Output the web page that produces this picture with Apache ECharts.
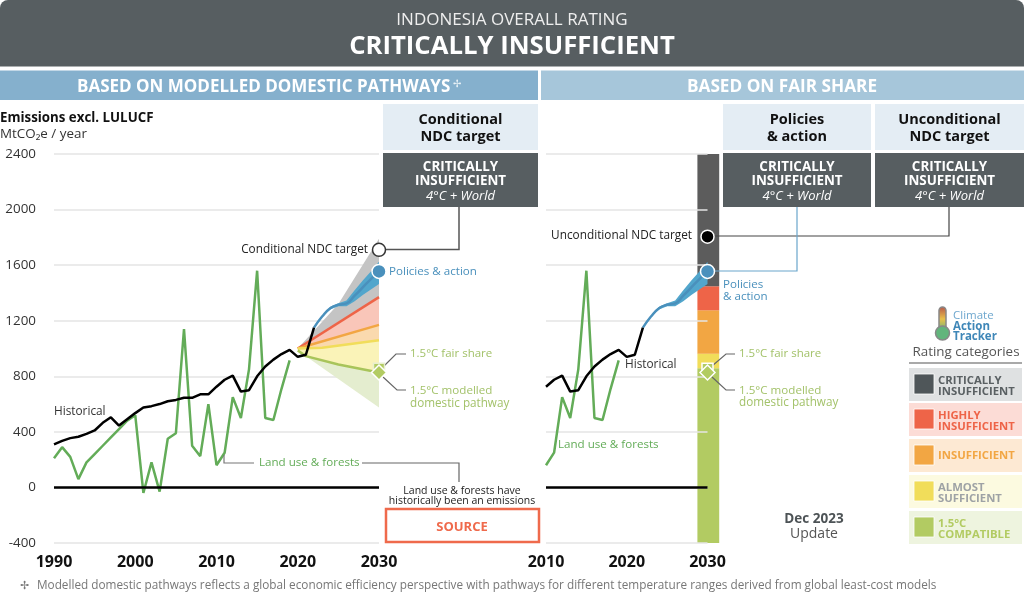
<!DOCTYPE html>
<html>
<head>
<meta charset="utf-8">
<title>Indonesia overall rating</title>
<style>
  html, body { margin: 0; padding: 0; background: #fff; }
  #chart { width: 1024px; height: 600px; }
</style>
<script src="https://cdn.jsdelivr.net/npm/echarts@6/dist/echarts.min.js"></script>
</head>
<body>
<div id="chart"></div>
<script>
var FONT = '"Open Sans", "Noto Sans", sans-serif';

var yTicks = [-400, 0, 400, 800, 1200, 1600, 2000, 2400];

var histYears = [1990, 1991, 1992, 1993, 1994, 1995, 1996, 1997, 1998, 1999, 2000, 2001, 2002, 2003, 2004, 2005,
    2006, 2007, 2008, 2009, 2010, 2011, 2012, 2013, 2014, 2015, 2016, 2017, 2018, 2019, 2020, 2021, 2022];
var historical = [310, 335, 355, 365, 385, 410, 465, 505, 445, 490, 535, 575, 585, 600, 620, 630,
    645, 645, 670, 670, 725, 775, 805, 690, 700, 800, 870, 920, 960, 990, 940, 955, 1150];

var lulucfYears = [1990, 1991, 1992, 1993, 1994, 1995, 1996, 1997, 1998, 1999, 2000, 2001, 2002, 2003, 2004, 2005,
    2006, 2007, 2008, 2009, 2010, 2011, 2012, 2013, 2014, 2015, 2016, 2017, 2018, 2019];
var lulucf = [210, 290, 220, 60, 180, 240, 300, 360, 420, 480, 520, -40, 180, -30, 350, 390,
    1140, 300, 225, 600, 160, 250, 650, 500, 850, 1560, 500, 485, 710, 915];

var policyYears = [2022, 2023, 2024, 2025, 2026, 2027, 2028, 2029, 2030];
var policyMid = [1150, 1230, 1290, 1315, 1325, 1380, 1440, 1500, 1555];
var policyHigh = [1150, 1235, 1300, 1325, 1345, 1420, 1490, 1555, 1625];
var policyLow = [1150, 1225, 1280, 1305, 1305, 1340, 1385, 1425, 1465];

// rating boundaries in the left panel, corners
var critYears = [2020, 2025, 2030];
var critTop = [1000, 1320, 1790];
var highYears = [2020, 2030];
var highTop = [1000, 1370];
var insufYears = [2020, 2030];
var insufTop = [1000, 1170];
var almostYears = [2020, 2023, 2030];
var almostTop = [1000, 1005, 1060];
var compatYears = [2020, 2021, 2025, 2030];
var compatLine = [985, 945, 885, 827];
var compatLowYears = [2021, 2030];
var compatLow = [945, 575];

var barEdges = [2028.75, 2031.45];
var barBreaks = [-400, 858, 963, 1275, 1448, 2400];
var barColors = ['#b2cb62', '#f1dd5a', '#f2a643', '#ee6448', '#5c5c5c'];

var condNdc = 1710;
var uncondNdc = 1805;
var policy2030 = 1555;
var fairShare = 855;
var modelled = 827;

function pairs(xs, ys) {
    return xs.map(function (x, i) { return [x, ys[i]]; });
}

// filled polygon between two curves, goes through the axis scales
function band(gridIndex, upXs, upper, lowXs, lower, color, z) {
    return {
        type: 'custom',
        xAxisIndex: gridIndex,
        yAxisIndex: gridIndex,
        z: z || 3,
        silent: true,
        clip: false,
        data: [0],
        renderItem: function (params, api) {
            var pts = [];
            upXs.forEach(function (x, i) { pts.push(api.coord([x, upper[i]])); });
            for (var i = lowXs.length - 1; i >= 0; i--) pts.push(api.coord([lowXs[i], lower[i]]));
            return { type: 'polygon', shape: { points: pts }, style: { fill: color } };
        }
    };
}

function column(i) {
    var lo = barBreaks[i], hi = barBreaks[i + 1];
    return band(1, barEdges, [hi, hi], barEdges, [lo, lo], barColors[i], 1);
}

function line(gridIndex, xs, ys, color, width, z, smooth) {
    return {
        type: 'line',
        xAxisIndex: gridIndex,
        yAxisIndex: gridIndex,
        data: pairs(xs, ys),
        showSymbol: false,
        silent: true,
        smooth: !!smooth,
        z: z || 5,
        lineStyle: { color: color, width: width }
    };
}

function point(gridIndex, x, y, symbol, size, fill, border, z) {
    return {
        type: 'scatter',
        xAxisIndex: gridIndex,
        yAxisIndex: gridIndex,
        data: [[x, y]],
        symbol: symbol,
        symbolSize: size,
        silent: true,
        z: z || 10,
        itemStyle: { color: fill, borderColor: border, borderWidth: 1.5, opacity: 1 }
    };
}

function rightPart(xs, ys, from) {
    var outX = [], outY = [];
    xs.forEach(function (x, i) {
        if (x >= from) { outX.push(x); outY.push(ys[i]); }
    });
    return [outX, outY];
}

var hist2 = rightPart(histYears, historical, 2010);
var land2 = rightPart(lulucfYears, lulucf, 2010);

var series = [
    // left panel
    band(0, critYears, critTop, highYears, highTop, '#c4c4c4'),
    band(0, highYears, highTop, insufYears, insufTop, '#f9c6b9'),
    band(0, insufYears, insufTop, almostYears, almostTop, '#fad9ae'),
    band(0, almostYears, almostTop, compatYears, compatLine, '#faf3b8'),
    band(0, compatYears, compatLine, compatLowYears, compatLow, '#e4edcf'),
    band(0, policyYears, policyHigh, policyYears, policyLow, '#52a6cc', 4),
    line(0, highYears, highTop, '#ee6448', 2.5, 4),
    line(0, insufYears, insufTop, '#f2a643', 2.5, 4),
    line(0, almostYears, almostTop, '#f1dd5a', 2.5, 4),
    line(0, compatYears, compatLine, '#a8c45a', 2.5, 4),
    line(0, policyYears, policyMid, '#4a90bc', 2.5, 5, true),
    line(0, lulucfYears, lulucf, '#63ac58', 2.5, 5),
    line(0, histYears, historical, '#000', 2.5, 6),
    line(0, [1990, 2030], [0, 0], '#000', 2.5, 6),
    point(0, 2030, fairShare, 'rect', 11, '#b2cb62', '#e8efcf'),
    point(0, 2030, modelled, 'diamond', 15, '#b2cb62', '#fff', 11),
    point(0, 2030, condNdc, 'circle', 13, '#fff', '#333'),
    point(0, 2030, policy2030, 'circle', 14, '#4a90bc', '#fff'),
    // right panel
    column(0), column(1), column(2), column(3), column(4),
    band(1, policyYears, policyHigh, policyYears, policyLow, '#52a6cc', 14),
    line(1, policyYears, policyMid, '#4a90bc', 2.5, 15, true),
    line(1, land2[0], land2[1], '#63ac58', 2.5, 15),
    line(1, hist2[0], hist2[1], '#000', 2.5, 16),
    line(1, [2010, 2030], [0, 0], '#000', 2.5, 16),
    point(1, 2030, fairShare, 'rect', 11, '#b2cb62', '#fff', 17),
    point(1, 2030, modelled, 'diamond', 15, '#b2cb62', '#fff', 18),
    point(1, 2030, uncondNdc, 'circle', 13, '#000', '#fff', 17),
    point(1, 2030, policy2030, 'circle', 14, '#4a90bc', '#fff', 17)
];

function txt(x, y, text, size, color, opts) {
    opts = opts || {};
    return {
        type: 'text',
        x: x,
        y: y + 1,
        z: 50,
        silent: true,
        style: {
            text: text,
            fontFamily: FONT,
            fontSize: size,
            fill: color,
            fontWeight: opts.bold ? 700 : 400,
            fontStyle: opts.italic ? 'italic' : 'normal',
            align: opts.align || 'left',
            verticalAlign: 'middle',
            lineHeight: opts.lh || size * 1.2
        }
    };
}

function box(x, y, w, h, fill, opts) {
    opts = opts || {};
    return {
        type: 'rect',
        z: opts.z || 0,
        silent: true,
        shape: { x: x, y: y, width: w, height: h, r: opts.r || 0 },
        style: { fill: fill, stroke: opts.stroke, lineWidth: opts.lw || 0 }
    };
}

function leader(points, color, width) {
    return {
        type: 'polyline',
        z: 9,
        silent: true,
        shape: { points: points },
        style: { stroke: color, lineWidth: width || 1.5, fill: 'none' }
    };
}

function targetHead(x, w, a, b) {
    return [
        box(x, 104, w, 46, '#e4edf4'),
        txt(x + w / 2, 119, a, 14.5, '#111', { align: 'center', bold: true }),
        txt(x + w / 2, 136, b, 14.5, '#111', { align: 'center', bold: true }),
        box(x, 153, w, 54, '#575e61'),
        txt(x + w / 2, 166, 'CRITICALLY', 13.4, '#fff', { align: 'center', bold: true }),
        txt(x + w / 2, 180, 'INSUFFICIENT', 13.4, '#fff', { align: 'center', bold: true }),
        txt(x + w / 2, 195, '4°C + World', 13, '#fff', { align: 'center', italic: true })
    ];
}

var legendRows = [
    { y: 368, h: 33, bg: '#dfe1e2', sw: '#4f5659', color: '#5a6063', a: 'CRITICALLY', b: 'INSUFFICIENT' },
    { y: 403, h: 33, bg: '#fcdcd6', sw: '#ee6448', color: '#ee6448', a: 'HIGHLY', b: 'INSUFFICIENT' },
    { y: 439, h: 33, bg: '#fde9d3', sw: '#f2a643', color: '#f2a643', a: 'INSUFFICIENT' },
    { y: 475, h: 33, bg: '#fcfae0', sw: '#f1dd5a', color: '#9ea2a5', a: 'ALMOST', b: 'SUFFICIENT' },
    { y: 511, h: 33, bg: '#eef4df', sw: '#b2cb62', color: '#b2cb62', a: '1.5°C', b: 'COMPATIBLE' }
];

var graphics = [
    box(0, 0, 1024, 66.5, '#575e61', { r: [8, 8, 0, 0] }),
    txt(512, 19, 'INDONESIA OVERALL RATING', 17, '#eee', { align: 'center' }),
    txt(512, 46, 'CRITICALLY INSUFFICIENT', 25.7, '#fff', { align: 'center', bold: true }),
    box(0, 70.5, 538, 29.5, '#85b0cd'),
    box(541, 70.5, 483, 29.5, '#a6c6da'),
    txt(77, 86, 'BASED ON MODELLED DOMESTIC PATHWAYS', 17, '#fff', { bold: true }),
    txt(453, 83, '✢', 9.5, '#eaf2f7'),
    txt(782, 86, 'BASED ON FAIR SHARE', 17.2, '#fff', { align: 'center', bold: true }),
    txt(0, 117, 'Emissions excl. LULUCF', 13.3, '#111', { bold: true }),
    txt(0, 133, 'MtCO₂e / year', 13.4, '#333'),

    // left panel notes
    txt(368, 249, 'Conditional NDC target', 11.8, '#222', { align: 'right' }),
    leader([[385, 249.5], [459, 249.5], [459, 207]], '#555', 1.5),
    txt(389, 271, 'Policies & action', 11.6, '#4a90bc'),
    leader([[383, 367], [396, 354], [406, 354]], '#666', 1.2),
    txt(410, 353, '1.5°C fair share', 11.5, '#a3c26a'),
    leader([[383, 377], [397, 390], [406, 390]], '#666', 1.2),
    txt(410, 390, '1.5°C modelled', 11.6, '#a3c26a'),
    txt(410, 403, 'domestic pathway', 11.7, '#a3c26a'),
    txt(54, 411, 'Historical', 11.8, '#333'),
    leader([[224, 455], [224, 463], [254, 463]], '#777', 1.2),
    txt(259, 462, 'Land use & forests', 11.6, '#63ac58'),
    leader([[362, 463], [459, 463], [459, 482]], '#666', 1.2),
    txt(462, 490, 'Land use & forests have', 10.5, '#222', { align: 'center' }),
    txt(462, 500, 'historically been an emissions', 10.5, '#222', { align: 'center' }),
    box(386, 509, 153, 33, '#fff', { stroke: '#ef6a4c', lw: 2.5 }),
    txt(462, 526, 'SOURCE', 13, '#ef6a4c', { align: 'center', bold: true }),

    // right panel notes
    txt(692, 235, 'Unconditional NDC target', 11.8, '#222', { align: 'right' }),
    leader([[714, 236], [949, 236], [949, 207]], '#444', 1.2),
    leader([[714, 271], [797, 271], [797, 207]], '#6aa6cc', 1.2),
    txt(723, 284, 'Policies', 11.6, '#4a90bc'),
    txt(723, 296, '& action', 11.6, '#4a90bc'),
    txt(625, 364, 'Historical', 11.8, '#333'),
    leader([[712, 366], [726, 354], [735, 354]], '#666', 1.2),
    txt(739, 353, '1.5°C fair share', 11.5, '#a3c26a'),
    leader([[712, 377], [726, 390], [735, 390]], '#666', 1.2),
    txt(739, 390, '1.5°C modelled', 11.6, '#a3c26a'),
    txt(739, 402, 'domestic pathway', 11.7, '#a3c26a'),
    txt(558, 444, 'Land use & forests', 11.6, '#63ac58'),
    txt(814, 518, 'Dec 2023', 13.5, '#4d5356', { align: 'center', bold: true }),
    txt(814, 533, 'Update', 14, '#555', { align: 'center' }),

    // logo
    { type: 'rect', z: 4, silent: true, shape: { x: 939, y: 307, width: 7, height: 24, r: 3.5 },
      style: { fill: new echarts.graphic.LinearGradient(0, 0, 0, 1, [
          { offset: 0, color: '#b5534a' }, { offset: 0.5, color: '#e8c04a' }, { offset: 1, color: '#62b57c' }
      ]), stroke: '#888', lineWidth: 1.5 } },
    { type: 'circle', z: 4, silent: true, shape: { cx: 942.5, cy: 333, r: 7 },
      style: { fill: '#62b57c', stroke: '#888', lineWidth: 1.5 } },
    txt(953, 315, 'Climate', 11.5, '#6fa8cf'),
    txt(953, 326, 'Action', 11.5, '#3f87b8', { bold: true }),
    txt(953, 336, 'Tracker', 11.5, '#3f87b8', { bold: true }),
    txt(966, 351, 'Rating categories', 13.4, '#555', { align: 'center' }),
    leader([[909, 363], [1022, 363]], '#555', 1.2),

    // footnote
    txt(20, 585, '✢', 11, '#777'),
    txt(37, 585, 'Modelled domestic pathways reflects a global economic efficiency perspective with pathways for different temperature ranges derived from global least-cost models', 11.77, '#777')
];

graphics = graphics.concat(targetHead(383, 155, 'Conditional', 'NDC target'));
graphics = graphics.concat(targetHead(723, 148, 'Policies', '& action'));
graphics = graphics.concat(targetHead(875, 149, 'Unconditional', 'NDC target'));

legendRows.forEach(function (row) {
    graphics.push(box(909, row.y, 113, row.h, row.bg));
    graphics.push(box(914, row.y + 6, 20, 20, row.sw, { z: 1, stroke: '#fff', lw: 0.8 }));
    if (row.b) {
        graphics.push(txt(938, row.y + 12, row.a, 11.3, row.color, { bold: true }));
        graphics.push(txt(938, row.y + 22.5, row.b, 11.3, row.color, { bold: true }));
    } else {
        graphics.push(txt(938, row.y + 16, row.a, 11.3, row.color, { bold: true }));
    }
});

function xAxis(gridIndex, min, interval) {
    return {
        type: 'value',
        gridIndex: gridIndex,
        min: min,
        max: 2030,
        interval: interval,
        axisLine: { show: false },
        axisTick: { show: false },
        splitLine: { show: false },
        axisLabel: {
            margin: 11,
            fontFamily: FONT,
            fontSize: 16,
            fontWeight: 700,
            color: '#111',
            formatter: function (v) { return String(v); },
            hideOverlap: false,
            showMinLabel: true,
            showMaxLabel: true
        }
    };
}

function yAxis(gridIndex, labels, z) {
    return {
        type: 'value',
        gridIndex: gridIndex,
        min: yTicks[0],
        max: yTicks[yTicks.length - 1],
        interval: yTicks[1] - yTicks[0],
        z: z,
        axisLine: { show: false },
        axisTick: { show: false },
        splitLine: { lineStyle: { color: '#e4e4e4', width: 1.5 } },
        axisLabel: {
            show: labels,
            margin: 18,
            fontFamily: FONT,
            fontSize: 13.4,
            color: '#333',
            formatter: function (v) { return String(v); }
        }
    };
}

var chart = echarts.init(document.getElementById('chart'), null, { renderer: 'canvas' });
chart.setOption({
    animation: false,
    backgroundColor: '#fff',
    grid: [
        { left: 54, right: 1024 - 379, top: 154, bottom: 600 - 543 },
        { left: 546, right: 1024 - 707.5, top: 154, bottom: 600 - 543 }
    ],
    xAxis: [xAxis(0, 1990, 10), xAxis(1, 2010, 10)],
    yAxis: [yAxis(0, true, 0), yAxis(1, false, 12)],
    series: series,
    graphic: { elements: graphics }
});
</script>
</body>
</html>
